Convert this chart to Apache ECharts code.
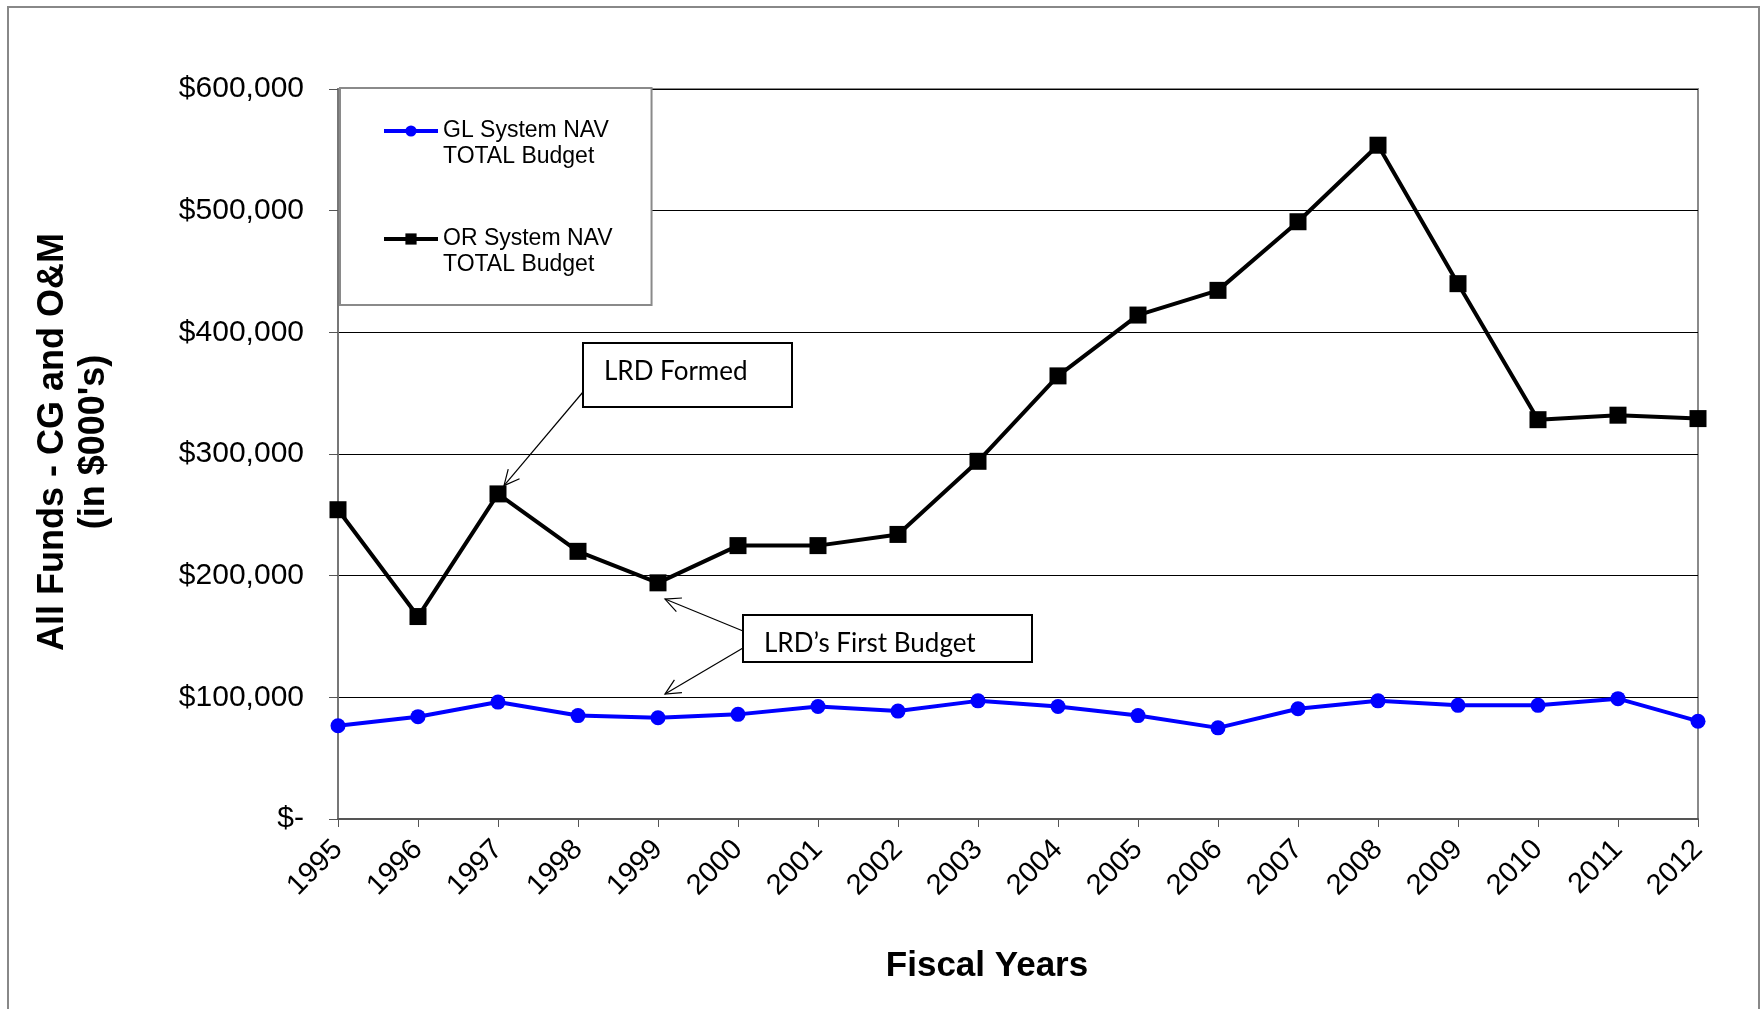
<!DOCTYPE html>
<html>
<head>
<meta charset="utf-8">
<script src="https://cdn.jsdelivr.net/npm/echarts/dist/echarts.min.js"></script>
<style>
html, body { margin: 0; padding: 0; background: #ffffff; }
#chart { width: 1763px; height: 1009px; }
</style>
</head>
<body>
<div id="chart"></div>
<script>
// ---- data ----
const years = ['1995','1996','1997','1998','1999','2000','2001','2002','2003','2004','2005','2006','2007','2008','2009','2010','2011','2012'];
const glBudget = [76700, 84100, 96100, 85000, 83200, 86000, 92500, 88700, 97100, 92500, 85000, 74900, 90600, 97100, 93400, 93400, 98900, 80400];
const orBudget = [254200, 166400, 267200, 220000, 194100, 224700, 224700, 233900, 294000, 364200, 414200, 434500, 490900, 553800, 440000, 328200, 331900, 329100];
const seriesNames = ['GL System NAV\nTOTAL Budget', 'OR System NAV\nTOTAL Budget'];
const yMin = 0, yMax = 600000, yStep = 100000;
const axisTitles = { x: 'Fiscal Years', y: "All Funds - CG and O&M\n(in $000's)" };
const notes = [
  { text: 'LRD Formed', box: [583, 343, 209, 64], dy: -3.3, targets: [{ idx: 2, value: 274000, dx: 6 }], from: [[583, 392]] },
  { text: 'LRD\u2019s First Budget', box: [743, 615, 289, 47], dy: 5, targets: [{ idx: 4, value: 180800, dx: 7 }, { idx: 4, value: 102700, dx: 7 }], from: [[743, 631], [743, 648]] }
];

const FONT = "'Liberation Sans', Arial, Helvetica, sans-serif";
const chart = echarts.init(document.getElementById('chart'), null, { renderer: 'canvas' });

function fmtMoney(v) {
  if (v === 0) return '$-';
  return '$' + v.toLocaleString('en-US');
}

chart.setOption({
  animation: false,
  backgroundColor: '#ffffff',
  grid: {
    left: 338, top: 89, width: 1360, height: 730,
    show: true, borderColor: '#8a8a8a', borderWidth: 2, backgroundColor: 'transparent'
  },
  legend: {
    orient: 'vertical',
    left: 340, top: 88,
    padding: [4, 39, 27, 42],
    itemWidth: 54, itemHeight: 14, itemGap: 30,
    backgroundColor: '#ffffff',
    borderColor: '#8a8a8a', borderWidth: 2,
    data: seriesNames,
    formatter: function (name) { return '\n' + name; },
    lineStyle: { width: 4 },
    textStyle: { fontFamily: FONT, fontSize: 23, color: '#000', lineHeight: 26 }
  },
  xAxis: {
    type: 'category',
    data: years,
    boundaryGap: false,
    name: axisTitles.x,
    nameLocation: 'middle',
    nameGap: 130,
    nameTextStyle: { fontFamily: FONT, fontSize: 35, fontWeight: 'bold', color: '#000', padding: [0, 62, 0, 0] },
    axisLine: { lineStyle: { color: '#555', width: 2 } },
    axisTick: { show: true, alignWithLabel: true, length: 8, lineStyle: { color: '#555', width: 1 } },
    axisLabel: { interval: 0, rotate: 45, margin: 26, fontFamily: FONT, fontSize: 29, color: '#000' },
    splitLine: { show: false }
  },
  yAxis: {
    type: 'value',
    min: yMin, max: yMax, interval: yStep,
    name: axisTitles.y,
    nameLocation: 'middle',
    nameRotate: 90,
    nameGap: 223,
    nameTextStyle: { fontFamily: FONT, fontSize: 36, fontWeight: 'bold', color: '#000', lineHeight: 41, padding: [0, 0, 0, 24] },
    axisLine: { show: true, lineStyle: { color: '#777', width: 2 } },
    axisTick: { show: true, length: 9, lineStyle: { color: '#555', width: 1 } },
    axisLabel: { margin: 34, fontFamily: FONT, fontSize: 30, color: '#000', formatter: fmtMoney },
    splitLine: { show: true, lineStyle: { color: '#000', width: 1 } }
  },
  series: [
    {
      name: seriesNames[0], type: 'line', data: glBudget,
      symbol: 'circle', symbolSize: 15,
      lineStyle: { color: '#0000ff', width: 4 },
      itemStyle: { color: '#0000ff' },
      z: 3
    },
    {
      name: seriesNames[1], type: 'line', data: orBudget,
      symbol: 'rect', symbolSize: 17,
      lineStyle: { color: '#000000', width: 4 },
      itemStyle: { color: '#000000' },
      z: 3
    }
  ]
});

// ---- annotations (boxes + arrows anchored to data points) ----
function arrowParts(from, to) {
  const a = Math.atan2(to[1] - from[1], to[0] - from[0]);
  const len = 17, spread = 0.45;
  const p1 = [to[0] - len * Math.cos(a - spread), to[1] - len * Math.sin(a - spread)];
  const p2 = [to[0] - len * Math.cos(a + spread), to[1] - len * Math.sin(a + spread)];
  return [
    { type: 'line', silent: true, z: 20, shape: { x1: from[0], y1: from[1], x2: to[0], y2: to[1] }, style: { stroke: '#000', lineWidth: 1.2 } },
    { type: 'polyline', silent: true, z: 20, shape: { points: [p1, to, p2] }, style: { stroke: '#000', lineWidth: 1.2, fill: null } }
  ];
}

const graphics = [
  { type: 'rect', silent: true, z: -10, shape: { x: 8, y: 7, width: 1751, height: 1100 }, style: { fill: 'none', stroke: '#888', lineWidth: 2 } }
];
notes.forEach(function (n) {
  graphics.push({ type: 'rect', silent: true, z: 20, shape: { x: n.box[0], y: n.box[1], width: n.box[2], height: n.box[3] }, style: { fill: '#fff', stroke: '#000', lineWidth: 2 } });
  graphics.push({ type: 'text', silent: true, z: 21, x: n.box[0] + 21, y: n.box[1] + n.box[3] / 2 + n.dy,
    style: { text: n.text, fontFamily: "Lato, 'Open Sans', sans-serif", fontSize: 26, fill: '#000', verticalAlign: 'middle', align: 'left' } });
  n.targets.forEach(function (t, i) {
    const px = chart.convertToPixel({ gridIndex: 0 }, [t.idx, t.value]);
    const tip = [px[0] + t.dx, px[1]];
    arrowParts(n.from[i], tip).forEach(function (g) { graphics.push(g); });
  });
});
chart.setOption({ graphic: graphics });
</script>
</body>
</html>
